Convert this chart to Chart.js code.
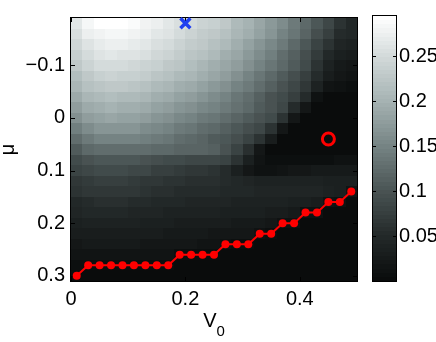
<!DOCTYPE html>
<html>
<head>
<meta charset="utf-8">
<script src="https://cdn.jsdelivr.net/npm/chart.js@4.4.1/dist/chart.umd.min.js"></script>
<style>
html, body { margin: 0; padding: 0; background: #fff; overflow: hidden; width: 436px; height: 342px; }
#map { position: absolute; left: 0; top: 0; }
#scale { position: absolute; left: 300px; top: 0; }
</style>
</head>
<body>
<canvas id="map" width="436" height="342"></canvas>
<canvas id="scale" width="160" height="342"></canvas>
<script>
// grid centres
const v0 = [0.01, 0.03, 0.05, 0.07, 0.09, 0.11, 0.13, 0.15, 0.17, 0.19, 0.21, 0.23, 0.25,
	0.27, 0.29, 0.31, 0.33, 0.35, 0.37, 0.39, 0.41, 0.43, 0.45, 0.47, 0.49];
const mu = [-0.18, -0.16, -0.14, -0.12, -0.10, -0.08, -0.06, -0.04, -0.02, 0.00, 0.02, 0.04, 0.06,
	0.08, 0.10, 0.12, 0.14, 0.16, 0.18, 0.20, 0.22, 0.24, 0.26, 0.28, 0.30];

// one row per mu, one column per V0
const cellValues = [
	[0.264, 0.285, 0.294, 0.295, 0.294, 0.288, 0.279, 0.272, 0.264, 0.257, 0.250, 0.242, 0.236, 0.226, 0.211, 0.200, 0.187, 0.174, 0.159, 0.142, 0.123, 0.104, 0.086, 0.060, 0.050],
	[0.257, 0.273, 0.278, 0.285, 0.283, 0.278, 0.273, 0.266, 0.259, 0.251, 0.242, 0.234, 0.226, 0.218, 0.205, 0.194, 0.180, 0.167, 0.152, 0.135, 0.117, 0.095, 0.074, 0.055, 0.047],
	[0.248, 0.262, 0.270, 0.274, 0.273, 0.270, 0.265, 0.258, 0.251, 0.243, 0.235, 0.227, 0.218, 0.208, 0.196, 0.184, 0.170, 0.156, 0.140, 0.122, 0.103, 0.082, 0.060, 0.045, 0.040],
	[0.238, 0.252, 0.260, 0.263, 0.262, 0.259, 0.254, 0.247, 0.240, 0.233, 0.225, 0.217, 0.208, 0.198, 0.186, 0.173, 0.159, 0.144, 0.128, 0.112, 0.094, 0.072, 0.048, 0.035, 0.030],
	[0.228, 0.242, 0.250, 0.252, 0.251, 0.248, 0.243, 0.236, 0.229, 0.222, 0.214, 0.206, 0.198, 0.188, 0.176, 0.163, 0.150, 0.137, 0.123, 0.108, 0.088, 0.062, 0.037, 0.027, 0.020],
	[0.216, 0.230, 0.238, 0.240, 0.239, 0.236, 0.231, 0.225, 0.218, 0.211, 0.203, 0.195, 0.186, 0.176, 0.164, 0.151, 0.137, 0.124, 0.110, 0.095, 0.077, 0.053, 0.030, 0.020, 0.015],
	[0.203, 0.217, 0.225, 0.227, 0.226, 0.223, 0.218, 0.212, 0.205, 0.198, 0.190, 0.182, 0.173, 0.163, 0.151, 0.139, 0.126, 0.113, 0.099, 0.085, 0.066, 0.038, 0.015, 0.010, 0.008],
	[0.190, 0.204, 0.211, 0.213, 0.212, 0.209, 0.204, 0.198, 0.191, 0.184, 0.176, 0.168, 0.159, 0.149, 0.138, 0.126, 0.114, 0.101, 0.088, 0.075, 0.055, 0.012, 0.004, 0.004, 0.004],
	[0.176, 0.190, 0.197, 0.199, 0.198, 0.195, 0.190, 0.184, 0.177, 0.170, 0.162, 0.155, 0.148, 0.140, 0.131, 0.121, 0.110, 0.097, 0.083, 0.055, 0.020, 0.004, 0.003, 0.003, 0.003],
	[0.162, 0.176, 0.183, 0.185, 0.184, 0.181, 0.176, 0.170, 0.163, 0.156, 0.149, 0.142, 0.135, 0.127, 0.118, 0.108, 0.098, 0.088, 0.060, 0.020, 0.004, 0.003, 0.003, 0.003, 0.003],
	[0.146, 0.160, 0.167, 0.170, 0.169, 0.166, 0.161, 0.156, 0.149, 0.142, 0.135, 0.128, 0.121, 0.113, 0.104, 0.095, 0.086, 0.060, 0.023, 0.004, 0.003, 0.003, 0.003, 0.003, 0.003],
	[0.128, 0.142, 0.149, 0.152, 0.151, 0.148, 0.144, 0.139, 0.134, 0.128, 0.122, 0.116, 0.110, 0.102, 0.093, 0.081, 0.062, 0.030, 0.004, 0.003, 0.003, 0.003, 0.003, 0.003, 0.003],
	[0.108, 0.120, 0.126, 0.128, 0.128, 0.127, 0.125, 0.123, 0.121, 0.119, 0.118, 0.117, 0.115, 0.100, 0.081, 0.057, 0.023, 0.004, 0.003, 0.003, 0.003, 0.003, 0.003, 0.003, 0.003],
	[0.092, 0.100, 0.105, 0.106, 0.106, 0.104, 0.100, 0.096, 0.092, 0.089, 0.087, 0.086, 0.086, 0.082, 0.062, 0.033, 0.015, 0.006, 0.005, 0.005, 0.006, 0.007, 0.009, 0.010, 0.011],
	[0.080, 0.086, 0.089, 0.090, 0.089, 0.087, 0.083, 0.078, 0.074, 0.071, 0.069, 0.067, 0.064, 0.052, 0.033, 0.020, 0.013, 0.013, 0.015, 0.020, 0.023, 0.024, 0.025, 0.025, 0.025],
	[0.066, 0.072, 0.075, 0.076, 0.075, 0.073, 0.069, 0.065, 0.062, 0.060, 0.058, 0.057, 0.057, 0.053, 0.050, 0.042, 0.040, 0.040, 0.038, 0.038, 0.038, 0.037, 0.036, 0.035, 0.034],
	[0.060, 0.065, 0.067, 0.068, 0.067, 0.065, 0.062, 0.059, 0.057, 0.055, 0.054, 0.053, 0.052, 0.050, 0.048, 0.047, 0.046, 0.045, 0.045, 0.044, 0.043, 0.042, 0.040, 0.036, 0.018],
	[0.050, 0.054, 0.056, 0.056, 0.056, 0.054, 0.052, 0.050, 0.048, 0.047, 0.046, 0.045, 0.044, 0.042, 0.041, 0.040, 0.039, 0.038, 0.037, 0.036, 0.034, 0.030, 0.015, 0.012, 0.003],
	[0.043, 0.047, 0.048, 0.048, 0.048, 0.046, 0.044, 0.042, 0.041, 0.040, 0.039, 0.038, 0.037, 0.036, 0.035, 0.034, 0.033, 0.031, 0.029, 0.026, 0.013, 0.011, 0.003, 0.003, 0.003],
	[0.035, 0.038, 0.039, 0.039, 0.039, 0.038, 0.036, 0.034, 0.033, 0.032, 0.031, 0.030, 0.029, 0.028, 0.027, 0.026, 0.024, 0.022, 0.012, 0.010, 0.003, 0.003, 0.003, 0.003, 0.003],
	[0.028, 0.031, 0.032, 0.032, 0.032, 0.031, 0.029, 0.028, 0.027, 0.026, 0.025, 0.024, 0.023, 0.022, 0.021, 0.019, 0.010, 0.009, 0.003, 0.003, 0.003, 0.003, 0.003, 0.003, 0.003],
	[0.021, 0.024, 0.025, 0.025, 0.025, 0.024, 0.023, 0.022, 0.021, 0.020, 0.019, 0.018, 0.017, 0.010, 0.009, 0.008, 0.003, 0.003, 0.002, 0.002, 0.002, 0.002, 0.002, 0.002, 0.002],
	[0.015, 0.017, 0.018, 0.018, 0.018, 0.017, 0.016, 0.016, 0.015, 0.009, 0.009, 0.008, 0.008, 0.002, 0.002, 0.002, 0.002, 0.002, 0.002, 0.002, 0.002, 0.002, 0.002, 0.002, 0.002],
	[0.009, 0.008, 0.008, 0.008, 0.008, 0.008, 0.007, 0.007, 0.007, 0.002, 0.002, 0.002, 0.002, 0.002, 0.002, 0.002, 0.002, 0.002, 0.002, 0.002, 0.002, 0.002, 0.002, 0.002, 0.002],
	[0.004, 0.002, 0.002, 0.002, 0.002, 0.002, 0.002, 0.002, 0.002, 0.002, 0.002, 0.002, 0.002, 0.002, 0.002, 0.002, 0.002, 0.002, 0.002, 0.002, 0.002, 0.002, 0.002, 0.002, 0.002]
];

// red boundary curve (one point per V0)
const boundaryMu = [0.30, 0.28, 0.28, 0.28, 0.28, 0.28, 0.28, 0.28, 0.28, 0.26, 0.26, 0.26, 0.26,
	0.24, 0.24, 0.24, 0.22, 0.22, 0.20, 0.20, 0.18, 0.18, 0.16, 0.16, 0.14];

const crossPoint = { x: 0.20, y: -0.18 };
const circlePoint = { x: 0.45, y: 0.04 };

const xTicks = [0, 0.2, 0.4];
const yTicks = [-0.1, 0, 0.1, 0.2, 0.3];
const barTicks = [0.05, 0.1, 0.15, 0.2, 0.25];

const FONT = '"Liberation Sans", Arial, Helvetica, sans-serif';
const barMax = Math.max(...cellValues.flat());

// grey with a slight cyan cast, 64 steps like the original colormap
const stops = [
	[0, 10, 12, 12], [0.17, 36, 42, 42], [0.34, 74, 84, 84], [0.51, 118, 132, 132],
	[0.68, 165, 178, 178], [0.85, 210, 217, 217], [1, 255, 255, 255]
];
function cmap(v) {
	let t = Math.max(0, Math.min(1, v / barMax));
	t = Math.floor(t * 63.999) / 63;
	for (let i = 1; i < stops.length; i++) {
		if (t <= stops[i][0]) {
			const a = stops[i - 1], b = stops[i];
			const f = (t - a[0]) / (b[0] - a[0]);
			const c = [1, 2, 3].map(k => Math.round(a[k] + (b[k] - a[k]) * f));
			return `rgb(${c[0]},${c[1]},${c[2]})`;
		}
	}
	return 'rgb(255,255,255)';
}

const fmt = v => (v < 0 ? '\u2212' + Math.abs(v) : String(v));

const heatmapPlugin = {
	id: 'heatmap',
	beforeDatasetsDraw(chart) {
		const { ctx, chartArea: a, scales: { x, y } } = chart;
		const hx = (v0[1] - v0[0]) / 2, hy = (mu[1] - mu[0]) / 2;
		ctx.save();
		cellValues.forEach((row, r) => {
			row.forEach((val, c) => {
				const x0 = Math.round(x.getPixelForValue(v0[c] - hx));
				const x1 = Math.round(x.getPixelForValue(v0[c] + hx));
				const y0 = Math.round(y.getPixelForValue(mu[r] - hy));
				const y1 = Math.round(y.getPixelForValue(mu[r] + hy));
				ctx.fillStyle = cmap(val);
				ctx.fillRect(x0, Math.min(y0, y1), x1 - x0, Math.abs(y1 - y0));
			});
		});
		ctx.strokeStyle = '#000';
		ctx.lineWidth = 1;
		ctx.beginPath();
		xTicks.forEach(v => {
			const px = Math.round(x.getPixelForValue(v)) + 0.5;
			ctx.moveTo(px, a.bottom); ctx.lineTo(px, a.bottom - 4);
			ctx.moveTo(px, a.top); ctx.lineTo(px, a.top + 4);
		});
		yTicks.forEach(v => {
			const py = Math.round(y.getPixelForValue(v)) + 0.5;
			ctx.moveTo(a.left, py); ctx.lineTo(a.left + 4, py);
			ctx.moveTo(a.right, py); ctx.lineTo(a.right - 4, py);
		});
		ctx.stroke();
		ctx.strokeRect(a.left - 0.5, a.top - 0.5, a.right - a.left + 1, a.bottom - a.top + 1);
		ctx.restore();
	},
	afterDraw(chart) {
		const { ctx, chartArea: a } = chart;
		const cx = (a.left + a.right) / 2;
		ctx.save();
		ctx.fillStyle = '#000';
		ctx.textBaseline = 'alphabetic';
		ctx.font = `20px ${FONT}`;
		const wV = ctx.measureText('V').width;
		ctx.font = `15px ${FONT}`;
		const w0 = ctx.measureText('0').width;
		const start = cx - (wV + w0) / 2;
		ctx.font = `20px ${FONT}`;
		ctx.textAlign = 'left';
		ctx.fillText('V', start, 327);
		ctx.font = `15px ${FONT}`;
		ctx.fillText('0', start + wV, 336);
		ctx.translate(14, (a.top + a.bottom) / 2);
		ctx.rotate(-Math.PI / 2);
		ctx.font = `20px ${FONT}`;
		ctx.textAlign = 'center';
		ctx.fillText('\u03bc', 0, 0);
		ctx.restore();
	}
};

const boundary = v0.map((v, i) => ({ x: v, y: boundaryMu[i] }));

new Chart(document.getElementById('map'), {
	type: 'scatter',
	data: {
		datasets: [{
			data: boundary,
			showLine: true,
			borderColor: '#ff0000',
			borderWidth: 2,
			pointRadius: 4,
			pointBackgroundColor: '#ff0000',
			pointBorderWidth: 0,
			clip: false
		}, {
			data: [crossPoint],
			pointStyle: 'crossRot',
			pointRadius: 7,
			borderColor: '#2040f0',
			pointBorderWidth: 3.5,
			clip: false
		}, {
			data: [circlePoint],
			pointStyle: 'circle',
			pointRadius: 6,
			borderColor: '#ff0000',
			backgroundColor: 'rgba(0,0,0,0)',
			pointBorderWidth: 3,
			clip: false
		}]
	},
	options: {
		responsive: false,
		animation: false,
		layout: { padding: { left: 0, top: 16, right: 79, bottom: 0 } },
		plugins: { legend: { display: false }, tooltip: { enabled: false } },
		scales: {
			x: {
				type: 'linear',
				min: 0,
				max: 0.5,
				afterBuildTicks: s => { s.ticks = xTicks.map(v => ({ value: v })); },
				afterFit: s => { s.height = 61; },
				grid: { display: false, drawTicks: false },
				border: { display: false },
				ticks: { padding: 6, color: '#000', maxRotation: 0, font: { family: FONT, size: 20 }, callback: fmt }
			},
			y: {
				type: 'linear',
				reverse: true,
				min: -0.19,
				max: 0.31,
				afterBuildTicks: s => { s.ticks = yTicks.map(v => ({ value: v })); },
				afterFit: s => { s.width = 71; },
				grid: { display: false, drawTicks: false },
				border: { display: false },
				ticks: { padding: 6, color: '#000', font: { family: FONT, size: 20 }, callback: fmt }
			}
		}
	},
	plugins: [heatmapPlugin]
});

const colorbarPlugin = {
	id: 'colorbar',
	beforeDatasetsDraw(chart) {
		const { ctx, chartArea: a, scales: { y } } = chart;
		const n = 64;
		ctx.save();
		for (let k = 0; k < n; k++) {
			const lo = Math.round(y.getPixelForValue(k * barMax / n));
			const hi = Math.round(y.getPixelForValue((k + 1) * barMax / n));
			ctx.fillStyle = cmap((k + 0.5) * barMax / n);
			ctx.fillRect(a.left, hi, a.right - a.left, lo - hi);
		}
		ctx.strokeStyle = '#000';
		ctx.lineWidth = 1;
		ctx.beginPath();
		barTicks.forEach(v => {
			const py = Math.round(y.getPixelForValue(v)) + 0.5;
			ctx.moveTo(a.left, py); ctx.lineTo(a.left + 3, py);
			ctx.moveTo(a.right, py); ctx.lineTo(a.right - 3, py);
		});
		ctx.stroke();
		ctx.strokeRect(a.left - 0.5, a.top - 0.5, a.right - a.left + 1, a.bottom - a.top + 1);
		ctx.restore();
	}
};

new Chart(document.getElementById('scale'), {
	type: 'scatter',
	data: { datasets: [] },
	options: {
		responsive: false,
		animation: false,
		layout: { padding: { left: 73, top: 16, right: 0, bottom: 61 } },
		plugins: { legend: { display: false }, tooltip: { enabled: false } },
		scales: {
			x: { display: false, min: 0, max: 1 },
			y: {
				position: 'right',
				min: 0,
				max: barMax,
				afterBuildTicks: s => { s.ticks = barTicks.map(v => ({ value: v })); },
				afterFit: s => { s.width = 64; },
				grid: { display: false, drawTicks: false },
				border: { display: false },
				ticks: { padding: 3, color: '#000', font: { family: FONT, size: 20 }, callback: v => String(v) }
			}
		}
	},
	plugins: [colorbarPlugin]
});
</script>
</body>
</html>
